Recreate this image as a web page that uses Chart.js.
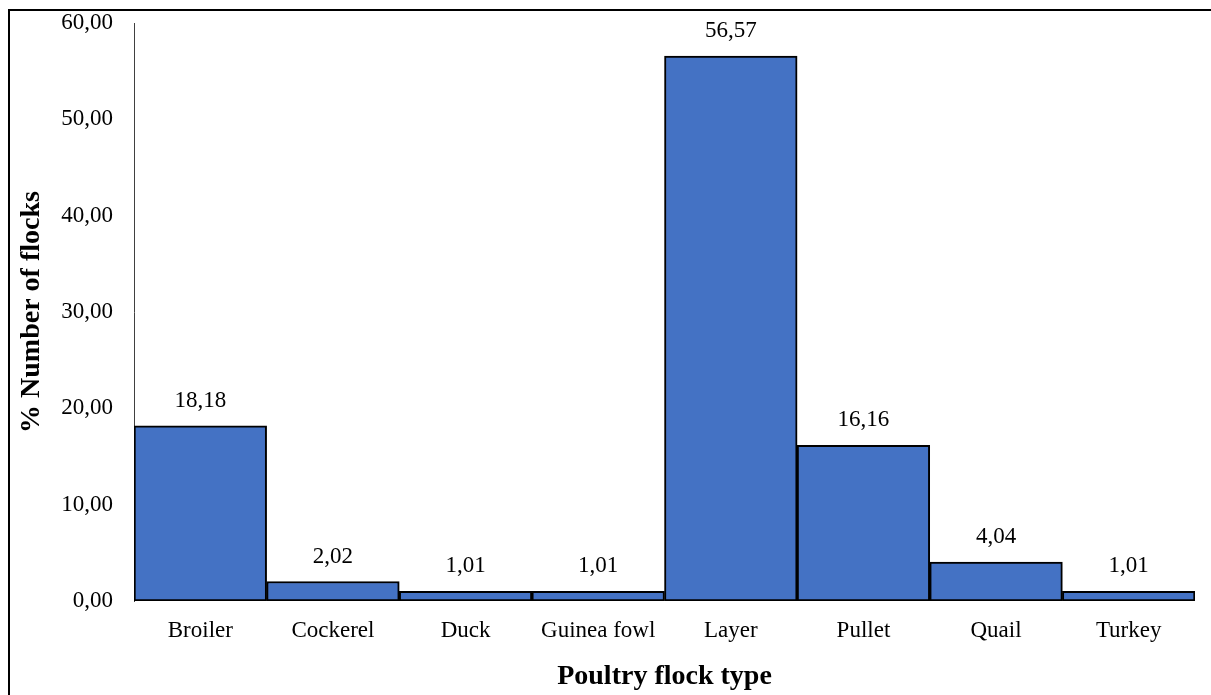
<!DOCTYPE html>
<html>
<head>
<meta charset="utf-8">
<script src="https://cdn.jsdelivr.net/npm/chart.js@4/dist/chart.umd.min.js"></script>
<style>
  html, body { margin: 0; padding: 0; background: #fff; overflow: hidden; }
  #wrap { position: relative; width: 1211px; height: 695px; }
  #frame { position: absolute; left: 8px; top: 9px; width: 1400px; height: 900px; border: 2px solid #000; box-sizing: border-box; pointer-events: none; }
  canvas { position: absolute; left: 0; top: 0; }
</style>
</head>
<body>
<div id="wrap">
  <canvas id="c" width="1211" height="695"></canvas>
  <div id="frame"></div>
</div>
<script>
const categories = ['Broiler', 'Cockerel', 'Duck', 'Guinea fowl', 'Layer', 'Pullet', 'Quail', 'Turkey'];
const flockPercent = [18.18, 2.02, 1.01, 1.01, 56.57, 16.16, 4.04, 1.01];
const yTicks = [0, 10, 20, 30, 40, 50, 60];
const xTitle = 'Poultry flock type';
const yTitle = '% Number of flocks';

const FONT = "'Liberation Serif', 'Times New Roman', serif";
const fmt = v => v.toFixed(2).replace('.', ',');

const valueLabels = {
  id: 'valueLabels',
  afterDatasetsDraw(chart) {
    const ctx = chart.ctx;
    const meta = chart.getDatasetMeta(0);
    ctx.save();
    ctx.font = '23px ' + FONT;
    ctx.fillStyle = '#000';
    ctx.textAlign = 'center';
    ctx.textBaseline = 'middle';
    meta.data.forEach((bar, i) => {
      ctx.fillText(fmt(chart.data.datasets[0].data[i]), bar.x, bar.y - 25);
    });
    ctx.restore();
  }
};

new Chart(document.getElementById('c'), {
  type: 'bar',
  data: {
    labels: categories,
    datasets: [{
      data: flockPercent,
      backgroundColor: '#4472C4',
      borderColor: '#000',
      borderWidth: 2,
      borderSkipped: false,
      categoryPercentage: 1.0,
      barPercentage: 1.0
    }]
  },
  options: {
    responsive: false,
    animation: false,
    layout: { padding: { left: 0, right: 16, top: 23, bottom: 0 } },
    plugins: { legend: { display: false }, tooltip: { enabled: false } },
    scales: {
      x: {
        grid: { display: false, drawTicks: false },
        border: { display: false },
        ticks: { color: '#000', font: { family: FONT, size: 23 }, padding: 16, maxRotation: 0 },
        title: { display: true, text: xTitle, color: '#000', font: { family: FONT, size: 28, weight: 'bold' }, padding: { top: 0, bottom: 1 } },
        afterFit(scale) { scale.height = 94; scale.paddingLeft = 0; scale.paddingRight = 0; }
      },
      y: {
        min: 0, max: 60,
        afterBuildTicks(scale) { scale.ticks = yTicks.map(v => ({ value: v })); },
        grid: { display: false, drawTicks: false },
        border: { display: true, color: '#404040', width: 1 },
        ticks: { color: '#000', font: { family: FONT, size: 23 }, padding: 21, callback: v => fmt(v) },
        title: { display: true, text: yTitle, color: '#000', font: { family: FONT, size: 28, weight: 'bold' }, padding: { top: 15, bottom: 0 } },
        afterFit(scale) { scale.width = 134; scale.paddingTop = 0; scale.paddingBottom = 0; }
      }
    }
  },
  plugins: [valueLabels]
});
</script>
</body>
</html>
